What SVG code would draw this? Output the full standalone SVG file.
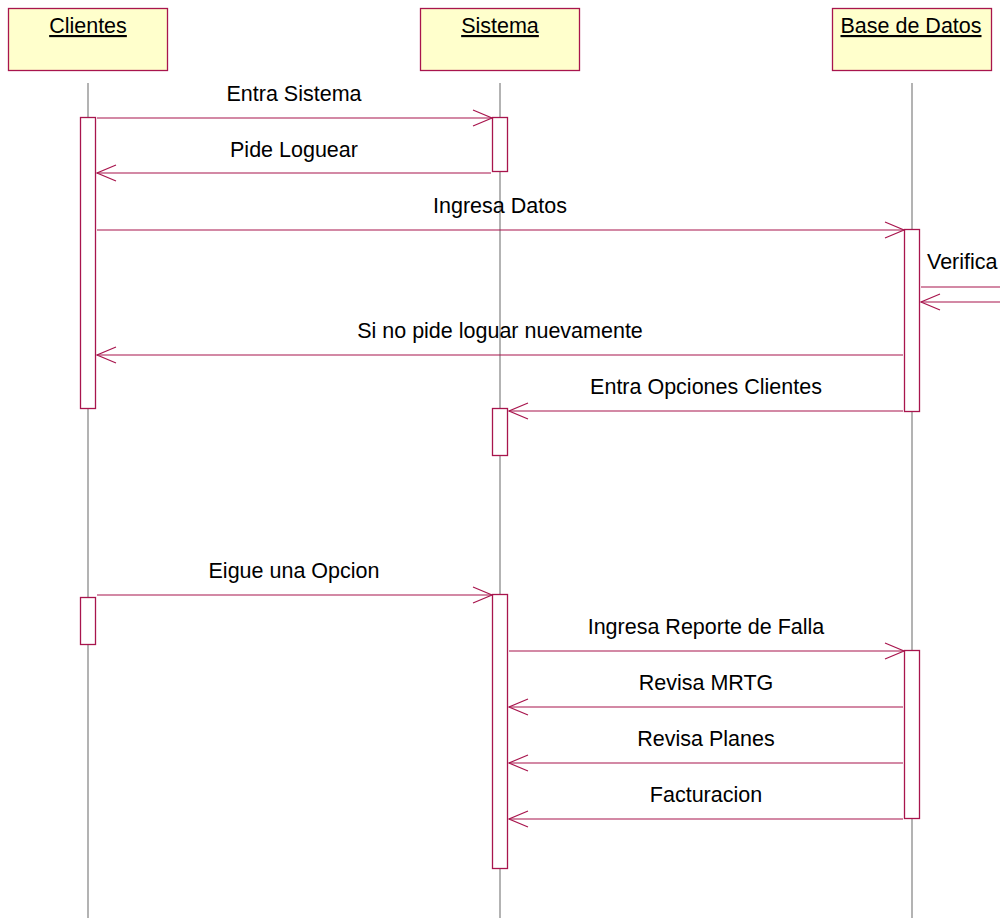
<svg xmlns="http://www.w3.org/2000/svg" width="1000" height="918" viewBox="0 0 1000 918">
  <style>
    .obj { fill: #ffffcc; stroke: #a8154d; stroke-width: 1.3; }
    .objname { font-family: "Liberation Sans", Arial, sans-serif; font-size: 21.5px; fill: #000; text-anchor: middle; text-decoration: underline; }
    .life { stroke: #808080; stroke-width: 1.2; fill: none; }
    .act { fill: #ffffff; stroke: #a8154d; stroke-width: 1.3; }
    .msg { stroke: #a8154d; stroke-width: 1.2; fill: none; }
    .head { stroke: #a8154d; stroke-width: 1.2; fill: none; }
    .lbl { font-family: "Liberation Sans", Arial, sans-serif; font-size: 21.5px; fill: #000; text-anchor: middle; }
  </style>
  <defs>
    <!-- open arrowhead pointing right, tip at origin -->
    <path id="headR" class="head" d="M-19,-8 L0,0 L-19,8"/>
    <!-- open arrowhead pointing left, tip at origin -->
    <path id="headL" class="head" d="M19,-8 L0,0 L19,8"/>
  </defs>

  <rect width="1000" height="918" fill="#ffffff"/>

  <!-- lifelines -->
  <g id="lifelines">
    <line class="life" x1="88" y1="83" x2="88" y2="918"/>
    <line class="life" x1="500" y1="83" x2="500" y2="918"/>
    <line class="life" x1="912" y1="83" x2="912" y2="918"/>
  </g>

  <!-- participants -->
  <g id="clientes">
    <rect class="obj" x="8.5" y="8.5" width="159" height="62"/>
    <text class="objname" x="88" y="33">Clientes</text>
    <rect class="act" x="80.5" y="117.5" width="15" height="291"/>
    <rect class="act" x="80.5" y="597.5" width="15" height="47"/>
  </g>
  <g id="sistema">
    <rect class="obj" x="420.5" y="8.5" width="159" height="62"/>
    <text class="objname" x="500" y="33">Sistema</text>
    <rect class="act" x="492.5" y="117.5" width="15" height="54"/>
    <rect class="act" x="492.5" y="408.5" width="15" height="47"/>
    <rect class="act" x="492.5" y="594.5" width="15" height="274"/>
  </g>
  <g id="base-de-datos">
    <rect class="obj" x="832.5" y="8.5" width="159" height="62"/>
    <text class="objname" x="911" y="33">Base de Datos</text>
    <rect class="act" x="904.5" y="229.5" width="15" height="182"/>
    <rect class="act" x="904.5" y="650.5" width="15" height="168"/>
  </g>

  <!-- messages -->
  <g id="connectors">
    <line class="msg" x1="97" y1="118" x2="492" y2="118"/>
    <use href="#headR" x="492" y="118"/>
    <text class="lbl" x="294" y="101">Entra Sistema</text>

    <line class="msg" x1="491" y1="173" x2="97" y2="173"/>
    <use href="#headL" x="97" y="173"/>
    <text class="lbl" x="294" y="157">Pide Loguear</text>

    <line class="msg" x1="97" y1="230" x2="904" y2="230"/>
    <use href="#headR" x="904" y="230"/>
    <text class="lbl" x="500" y="213">Ingresa Datos</text>

    <line class="msg" x1="921" y1="287" x2="1000" y2="287"/>
    <line class="msg" x1="1000" y1="302" x2="921" y2="302"/>
    <use href="#headL" x="921" y="302"/>
    <text class="lbl" x="927" y="269" style="text-anchor:start">Verifica</text>

    <line class="msg" x1="903" y1="355" x2="97" y2="355"/>
    <use href="#headL" x="97" y="355"/>
    <text class="lbl" x="500" y="338">Si no pide loguar nuevamente</text>

    <line class="msg" x1="903" y1="411" x2="509" y2="411"/>
    <use href="#headL" x="509" y="411"/>
    <text class="lbl" x="706" y="394">Entra Opciones Clientes</text>

    <line class="msg" x1="97" y1="595" x2="492" y2="595"/>
    <use href="#headR" x="492" y="595"/>
    <text class="lbl" x="294" y="578">Eigue una Opcion</text>

    <line class="msg" x1="509" y1="651" x2="904" y2="651"/>
    <use href="#headR" x="904" y="651"/>
    <text class="lbl" x="706" y="634">Ingresa Reporte de Falla</text>

    <line class="msg" x1="903" y1="707" x2="509" y2="707"/>
    <use href="#headL" x="509" y="707"/>
    <text class="lbl" x="706" y="690">Revisa MRTG</text>

    <line class="msg" x1="903" y1="763" x2="509" y2="763"/>
    <use href="#headL" x="509" y="763"/>
    <text class="lbl" x="706" y="746">Revisa Planes</text>

    <line class="msg" x1="903" y1="819" x2="509" y2="819"/>
    <use href="#headL" x="509" y="819"/>
    <text class="lbl" x="706" y="802">Facturacion</text>
  </g>
</svg>
